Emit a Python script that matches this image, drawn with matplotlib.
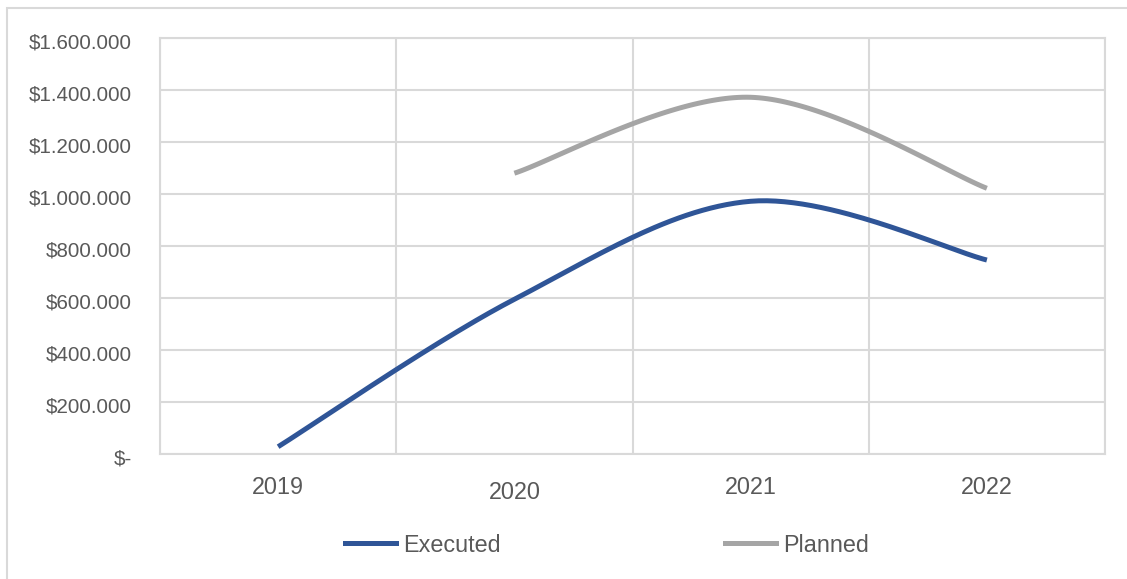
import numpy as np
import matplotlib.pyplot as plt
from matplotlib.patches import Rectangle
from matplotlib.lines import Line2D
from matplotlib.ticker import FuncFormatter, MultipleLocator
import matplotlib.transforms as mtransforms

plt.rcParams['font.family'] = ['Liberation Sans', 'DejaVu Sans']

years = ['2019', '2020', '2021', '2022']
executed = [28000, 595000, 972000, 746000]
planned = [None, 1080000, 1372000, 1022000]

blue = '#2F5597'
grey = '#A5A5A5'
grid_col = '#D9D9D9'
text_col = '#595959'


def smooth(xs, ys, n=60):
    # Excel-style smoothed line: cubic bezier through the points
    pts = np.column_stack([xs, ys]).astype(float)
    ext = np.vstack([pts[0], pts, pts[-1]])
    out = []
    t = np.linspace(0, 1, n)[:, None]
    for i in range(len(pts) - 1):
        p0 = ext[i + 1]
        p3 = ext[i + 2]
        c1 = p0 + (ext[i + 2] - ext[i]) / 6
        c2 = p3 - (ext[i + 3] - ext[i + 1]) / 6
        seg = (1 - t) ** 3 * p0 + 3 * (1 - t) ** 2 * t * c1 + 3 * (1 - t) * t ** 2 * c2 + t ** 3 * p3
        out.append(seg if i == 0 else seg[1:])
    seg = np.vstack(out)
    return seg[:, 0], seg[:, 1]


fig = plt.figure(figsize=(11.27, 5.79), dpi=100)
ax = fig.add_axes([160 / 1127, 1 - 454 / 579, 945 / 1127, 416 / 579])

# chart border
fig.patches.append(Rectangle((7 / 1127, -0.1), 1.2, 1 - 8 / 579 + 0.1, transform=fig.transFigure,
                             fill=False, edgecolor=grid_col, linewidth=1.5, zorder=0))

x = np.arange(len(years))
for vals, col in [(executed, blue), (planned, grey)]:
    xs = [xi for xi, v in zip(x, vals) if v is not None]
    ys = [v for v in vals if v is not None]
    sx, sy = smooth(xs, ys)
    ax.plot(sx, sy, color=col, linewidth=3.6, solid_capstyle='butt', zorder=3)

ax.set_xlim(-0.5, len(years) - 0.5)
ax.set_ylim(0, 1600000)
ax.yaxis.set_major_locator(MultipleLocator(200000))
ax.yaxis.set_major_formatter(FuncFormatter(
    lambda v, p: '$-' if v == 0 else '${:,.0f}'.format(v).replace(',', '.')))
ax.set_xticks(x)
ax.set_xticklabels(years)
ax.set_xticks(np.arange(-0.5, len(years)), minor=True)

ax.grid(True, axis='y', which='major', color=grid_col, linewidth=1.5)
ax.grid(True, axis='x', which='minor', color=grid_col, linewidth=1.5)
ax.set_axisbelow(True)
for s in ax.spines.values():
    s.set_color(grid_col)
    s.set_linewidth(1.5)

ax.tick_params(axis='both', which='both', length=0)
ax.tick_params(axis='y', labelsize=14.8, labelcolor=text_col, pad=20)
ax.tick_params(axis='x', labelsize=16.8, labelcolor=text_col, pad=16)

# value labels sit slightly below their gridlines
down = mtransforms.ScaledTranslation(0, -3 / 100, fig.dpi_scale_trans)
for tick in ax.yaxis.get_major_ticks():
    tick.label1.set_transform(tick.label1.get_transform() + down)

# 2020 label sits a little lower
lbl = ax.get_xticklabels()[1]
lbl.set_transform(lbl.get_transform() + mtransforms.ScaledTranslation(0, -5 / 100, fig.dpi_scale_trans))

handles = [Line2D([], [], color=blue, linewidth=3.6), Line2D([], [], color=grey, linewidth=3.6)]
fig.legend(handles, ['Executed', 'Planned'], loc='center', bbox_to_anchor=(607 / 1127, 1 - 545 / 579),
           ncol=2, frameon=False, fontsize=16.8, labelcolor=text_col, handlelength=2.2,
           handletextpad=0.3, columnspacing=9.6)

fig.savefig('out.png', dpi=100)
